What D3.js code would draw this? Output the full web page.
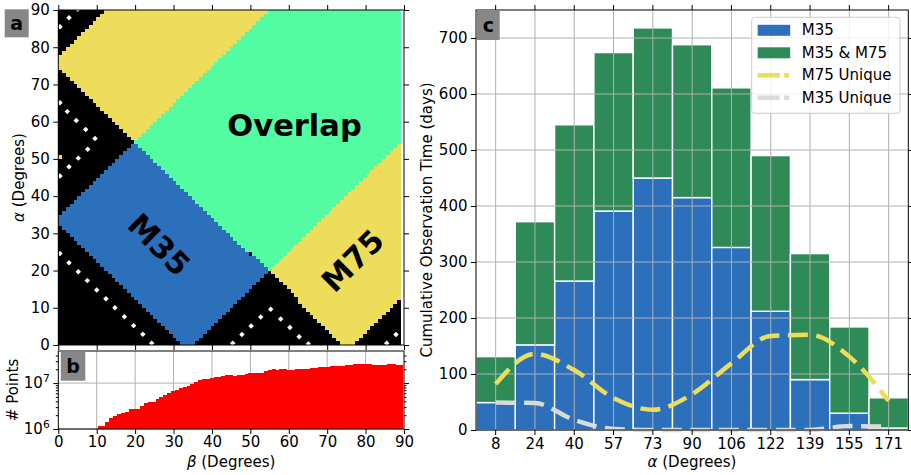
<!DOCTYPE html>
<html><head><meta charset="utf-8">
<script src="https://cdn.jsdelivr.net/npm/d3@7"></script>
<style>body{margin:0;background:#fff} text{font-family:"DejaVu Sans",sans-serif}</style>
</head><body><svg id="chart" width="911" height="475" xmlns="http://www.w3.org/2000/svg"></svg>
<script>
// ---------------- DATA ----------------
// Panel a: sky regions in (beta, alpha) degrees
const overlapPoly   = [[19.7,54.6],[55.1,90],[90,90],[90,55.2],[54.6,20.0]];
const m35Poly       = [[0,32.2],[0,34.7],[19.7,54.5],[54.6,20.0],[35.0,0],[32.2,0]];
const m75UpperPoly  = [[12.75,90],[55.1,90],[19.7,54.6],[0,74.3],[0,77.3]];
const m75LowerPoly  = [[54.6,20.0],[90,55.2],[90,13.0],[77.2,0],[74.2,0]];
const m75StrayCell  = [[0,50],[1,50],[1,51],[0,51]];
const imageBeta = [0, 89.2];
const imageAlpha = [0, 90];
const imageCells = [90, 90];
// dotted white markers (beta, alpha)
const dotsTopLeft   = [[0.44,85.5],[2.8,87.9],[5.1,90.2]];
const dotsChevron   = [[0.44,65.1],[2.34,62.7],[4.68,60.3],[7.13,57.9],[9.55,55.5],[7.65,52.6],[5.2,50.2],[2.78,47.9],[0.44,45.4]];
const dotsLowerLeft = [[0.44,24.6],[2.78,22.1],[5.2,19.7],[7.55,17.3],[10.0,14.8],[12.4,12.4],[14.75,10.0],[17.2,7.6],[19.6,5.2],[22.0,2.9],[24.3,0.45]];
const dotsBottomMid = [[45.4,0.45],[47.8,2.8],[50.2,5.1],[52.7,7.5],[55.3,9.6],[57.9,7.0],[60.3,4.7],[62.7,2.2],[65.1,0.27]];
const dotsBottomRight = [[85.5,0.45],[87.9,2.8]];
const regionLabels = [
  {text:"Overlap", beta:61.5, alpha:59.0, rot:0},
  {text:"M35", beta:26.2, alpha:26.9, rot:45},
  {text:"M75", beta:76.7, alpha:22.6, rot:-45}
];

// Panel b: number of points per beta bin (log)
const pointsBinStart = 10.25, pointsBinWidth = 1.006;
const pointsCounts = [
 1.18e6,1.18e6,1.42e6,1.74e6,1.96e6,2.13e6,2.24e6,2.36e6,2.74e6,2.74e6,
 2.74e6,3.19e6,3.65e6,3.90e6,3.90e6,4.47e6,4.93e6,5.56e6,5.94e6,6.58e6,
 7.14e6,7.78e6,8.04e6,8.75e6,9.66e6,10.5e6,11.6e6,12.0e6,12.0e6,13.1e6,
 13.8e6,13.8e6,14.5e6,15.0e6,15.0e6,14.5e6,15.2e6,15.2e6,16.0e6,16.8e6,
 16.8e6,16.8e6,16.8e6,18.6e6,19.6e6,20.6e6,19.6e6,20.6e6,20.6e6,19.6e6,
 19.6e6,20.6e6,20.6e6,20.6e6,20.6e6,21.7e6,21.7e6,22.8e6,22.8e6,22.8e6,
 24.0e6,24.0e6,24.0e6,24.0e6,25.2e6,25.2e6,26.5e6,26.5e6,26.5e6,26.5e6,
 26.5e6,25.2e6,25.2e6,25.2e6,25.2e6,26.5e6,26.5e6,25.2e6,25.2e6
];
const pointsMajorTicks = [1e6, 1e7];
const pointsMinorTicks = [2e6,3e6,4e6,5e6,6e6,7e6,8e6,9e6,2e7,3e7,4e7];
const betaTicks = [0,10,20,30,40,50,60,70,80,90];
const alphaTicksA = [0,10,20,30,40,50,60,70,80,90];

// Panel c: cumulative observation time per alpha bin
const alphaBins   = ["8","24","40","57","73","90","106","122","139","155","171"];
const m35Days     = [49,152,266,391,450,415,326,212,90,30,3.5];
const m35m75Days  = [82,220,279,283,268,273,285,278,225,154,54];
const m75Unique   = [82,136,107,57,36,64,119,168,170,131,52];
const m35Unique   = [49,48,18,2,0,0,0,0,0,7,6];
const daysTicks   = [0,100,200,300,400,500,600,700];

// ---------------- STYLE ----------------
const C = {
  blue:"#2c6fbb", green:"#2e8b57", yellow:"#eedc5b", sea:"#53fca1",
  grey:"#d8dcd6", black:"#000", red:"#ff0000", grid:"#b0b0b0", box:"#878787"
};
const FS = 15;
const FSC = 15;

const svg = d3.select("#chart");

function styleAxis(g, fs){
  g.select(".domain").remove();
  g.selectAll(".tick line").attr("stroke","#000").attr("stroke-width",1);
  g.selectAll(".tick text").attr("font-size",fs).attr("font-family","DejaVu Sans").attr("fill","#000");
}

// ---------------- PANEL A ----------------
const xA = d3.scaleLinear().domain([0,90]).range([58.3,404]);
const yA = d3.scaleLinear().domain([0,90]).range([345,10]);

const gA = svg.append("g");
const regions = [
  {poly:overlapPoly, color:C.sea},
  {poly:m35Poly, color:C.blue},
  {poly:m75UpperPoly, color:C.yellow},
  {poly:m75LowerPoly, color:C.yellow},
  {poly:m75StrayCell, color:C.yellow}
];
function classify(p){
  for(const r of regions){ if(d3.polygonContains(r.poly,p)) return r.color; }
  return C.black;
}
const cw = (imageBeta[1]-imageBeta[0])/imageCells[0];
const ch = (imageAlpha[1]-imageAlpha[0])/imageCells[1];
const runs = [];
for(let i=0;i<imageCells[0];i++){
  const b0 = imageBeta[0]+i*cw, b1 = b0+cw, bc=(b0+b1)/2;
  let start=0, cur=classify([bc, imageAlpha[0]+ch/2]);
  for(let j=1;j<=imageCells[1];j++){
    const c = j<imageCells[1] ? classify([bc, imageAlpha[0]+(j+0.5)*ch]) : null;
    if(c!==cur){
      runs.push({b0,b1,a0:imageAlpha[0]+start*ch,a1:imageAlpha[0]+j*ch,color:cur});
      start=j; cur=c;
    }
  }
}
gA.selectAll("rect.cell").data(runs).join("rect").attr("class","cell")
  .attr("x",d=>xA(d.b0)).attr("width",d=>xA(d.b1)-xA(d.b0)+0.3)
  .attr("y",d=>yA(d.a1)).attr("height",d=>yA(d.a0)-yA(d.a1))
  .attr("fill",d=>d.color).attr("shape-rendering","crispEdges");

const allDots = [].concat(dotsTopLeft,dotsChevron,dotsLowerLeft,dotsBottomMid,dotsBottomRight);
svg.append("clipPath").attr("id","clipImg").append("rect")
  .attr("x",xA(imageBeta[0])).attr("y",yA(imageAlpha[1]))
  .attr("width",xA(imageBeta[1])-xA(imageBeta[0])).attr("height",yA(imageAlpha[0])-yA(imageAlpha[1]));
gA.append("g").attr("clip-path","url(#clipImg)").selectAll("path").data(allDots).join("path")
  .attr("transform",d=>`translate(${xA(d[0])},${yA(d[1])})`)
  .attr("d",d3.symbol(d3.symbolDiamond2,19)())
  .attr("fill","#fff");

gA.selectAll("text.region").data(regionLabels).join("text").attr("class","region")
  .attr("transform",d=>`translate(${xA(d.beta)},${yA(d.alpha)}) rotate(${d.rot})`)
  .attr("text-anchor","middle").attr("dominant-baseline","central")
  .attr("font-size",30.5).attr("font-weight","bold").attr("fill","#000")
  .text(d=>d.text);

// spines a
svg.append("rect").attr("x",xA(0)).attr("y",yA(90)).attr("width",xA(90)-xA(0)).attr("height",yA(0)-yA(90))
  .attr("fill","none").attr("stroke","#000").attr("stroke-width",1);
styleAxis(svg.append("g").attr("transform",`translate(${xA(0)},0)`).call(d3.axisLeft(yA).tickValues(alphaTicksA).tickSize(5).tickPadding(3.5).tickFormat(d3.format("d"))),FS);
styleAxis(svg.append("g").attr("transform",`translate(${xA(90)},0)`).call(d3.axisRight(yA).tickValues(alphaTicksA).tickSize(5).tickFormat("")),FS);
styleAxis(svg.append("g").attr("transform",`translate(0,${yA(90)})`).call(d3.axisTop(xA).tickValues(betaTicks).tickSize(5).tickFormat("")),FS);
styleAxis(svg.append("g").attr("transform",`translate(0,${yA(0)})`).call(d3.axisBottom(xA).tickValues(betaTicks).tickSize(5).tickFormat("")),FS);

// y label a
svg.append("text").attr("transform",`translate(24,${(yA(0)+yA(90))/2}) rotate(-90)`)
  .attr("text-anchor","middle").attr("font-size",FS).attr("fill","#000")
  .call(t=>{t.append("tspan").attr("font-style","italic").text("α");t.append("tspan").text(" (Degrees)");});

// ---------------- PANEL B ----------------
const yB = d3.scaleLog().domain([1e6,5e7]).range([429,351]);
const gB = svg.append("g");
gB.selectAll("line.gv").data(betaTicks.slice(1,-1)).join("line").attr("class","gv")
  .attr("x1",d=>xA(d)).attr("x2",d=>xA(d)).attr("y1",yB(5e7)).attr("y2",yB(1e6))
  .attr("stroke",C.grid).attr("stroke-width",1);
gB.selectAll("line.gh").data(pointsMajorTicks).join("line").attr("class","gh")
  .attr("x1",xA(0)).attr("x2",xA(90)).attr("y1",d=>yB(d)).attr("y2",d=>yB(d))
  .attr("stroke",C.grid).attr("stroke-width",1);
gB.selectAll("rect.pb").data(pointsCounts).join("rect").attr("class","pb")
  .attr("x",(d,i)=>xA(pointsBinStart+i*pointsBinWidth))
  .attr("width",(d,i)=>xA(pointsBinStart+(i+1)*pointsBinWidth)-xA(pointsBinStart+i*pointsBinWidth)+0.3)
  .attr("y",d=>yB(d)).attr("height",d=>yB(1e6)-yB(d))
  .attr("fill",C.red).attr("shape-rendering","crispEdges");
svg.append("rect").attr("x",xA(0)).attr("y",yB(5e7)).attr("width",xA(90)-xA(0)).attr("height",yB(1e6)-yB(5e7))
  .attr("fill","none").attr("stroke","#000").attr("stroke-width",1);
const axLB = svg.append("g").attr("transform",`translate(${xA(0)},0)`)
  .call(d3.axisLeft(yB).tickValues(pointsMajorTicks).tickSize(5).tickPadding(3.5).tickFormat(d=>String(Math.round(Math.log10(d)))));
styleAxis(axLB,FS);
axLB.selectAll(".tick text").each(function(){
  const e=d3.select(this); const ex=e.text(); e.text("");
  e.append("tspan").text("10");
  e.append("tspan").attr("dy",-6).attr("font-size",FS*0.72).text(ex);
});
styleAxis(svg.append("g").attr("transform",`translate(${xA(0)},0)`).call(d3.axisLeft(yB).tickValues(pointsMinorTicks).tickSize(2.5).tickFormat("")),FS);
styleAxis(svg.append("g").attr("transform",`translate(${xA(90)},0)`).call(d3.axisRight(yB).tickValues(pointsMajorTicks).tickSize(5).tickFormat("")),FS);
styleAxis(svg.append("g").attr("transform",`translate(${xA(90)},0)`).call(d3.axisRight(yB).tickValues(pointsMinorTicks).tickSize(2.5).tickFormat("")),FS);
styleAxis(svg.append("g").attr("transform",`translate(0,${yB(1e6)})`).call(d3.axisBottom(xA).tickValues(betaTicks).tickSize(5).tickPadding(2.5).tickFormat(d3.format("d"))),FS);
svg.append("text").attr("transform",`translate(18,${(yB(1e6)+yB(5e7))/2}) rotate(-90)`)
  .attr("text-anchor","middle").attr("font-size",FS).attr("fill","#000").text("# Points");
svg.append("text").attr("x",(xA(0)+xA(90))/2).attr("y",467)
  .attr("text-anchor","middle").attr("font-size",FS).attr("fill","#000")
  .call(t=>{t.append("tspan").attr("font-style","italic").text("β");t.append("tspan").text(" (Degrees)");});

// ---------------- PANEL C ----------------
const xC = d3.scaleBand().domain(alphaBins).range([476,908.3]).padding(0);
const yC = d3.scaleLinear().domain([0,750]).range([430,10]);
const gC = svg.append("g");
const stackData = alphaBins.map((k,i)=>({k, m35:m35Days[i], both:m35m75Days[i]}));
const stacked = d3.stack().keys(["m35","both"])(stackData);
const barColors = {m35:C.blue, both:C.green};
stacked.forEach(layer=>{
  gC.append("g").selectAll("rect").data(layer).join("rect")
    .attr("x",d=>xC(d.data.k)).attr("width",xC.bandwidth())
    .attr("y",d=>yC(d[1])).attr("height",d=>yC(d[0])-yC(d[1]))
    .attr("fill",barColors[layer.key]).attr("stroke","#fff").attr("stroke-width",1.4);
});
gC.selectAll("line.gv").data(alphaBins).join("line").attr("class","gv")
  .attr("x1",d=>xC(d)+xC.bandwidth()/2).attr("x2",d=>xC(d)+xC.bandwidth()/2)
  .attr("y1",yC(750)).attr("y2",yC(0)).attr("stroke",C.grid).attr("stroke-width",1);
gC.selectAll("line.gh").data(daysTicks).join("line").attr("class","gh")
  .attr("x1",476).attr("x2",908.3).attr("y1",d=>yC(d)).attr("y2",d=>yC(d))
  .attr("stroke",C.grid).attr("stroke-width",1);
const lineGen = d3.line().x((d,i)=>xC(alphaBins[i])+xC.bandwidth()/2).y(d=>yC(d)).curve(d3.curveMonotoneX);
gC.append("path").attr("d",lineGen(m75Unique)).attr("fill","none").attr("stroke",C.yellow)
  .attr("stroke-width",4.5).attr("stroke-dasharray","20,8.5");
gC.append("path").attr("d",lineGen(m35Unique)).attr("fill","none").attr("stroke",C.grey)
  .attr("stroke-width",4.5).attr("stroke-dasharray","20,8.5");
svg.append("rect").attr("x",476).attr("y",yC(750)).attr("width",908.3-476).attr("height",yC(0)-yC(750))
  .attr("fill","none").attr("stroke","#000").attr("stroke-width",1);
styleAxis(svg.append("g").attr("transform",`translate(476,0)`).call(d3.axisLeft(yC).tickValues(daysTicks).tickSize(5).tickPadding(3.5)),FSC);
styleAxis(svg.append("g").attr("transform",`translate(908.3,0)`).call(d3.axisRight(yC).tickValues(daysTicks).tickSize(5).tickFormat("")),FSC);
styleAxis(svg.append("g").attr("transform",`translate(0,${yC(0)})`).call(d3.axisBottom(xC).tickSize(5).tickPadding(3.5)),FSC);
styleAxis(svg.append("g").attr("transform",`translate(0,${yC(750)})`).call(d3.axisTop(xC).tickSize(5).tickFormat("")),FSC);
svg.append("text").attr("transform",`translate(432,${(yC(0)+yC(750))/2}) rotate(-90)`)
  .attr("text-anchor","middle").attr("font-size",FSC).attr("fill","#000").text("Cumulative Observation Time (days)");
svg.append("text").attr("x",692).attr("y",467)
  .attr("text-anchor","middle").attr("font-size",FSC).attr("fill","#000")
  .call(t=>{t.append("tspan").attr("font-style","italic").text("α");t.append("tspan").text(" (Degrees)");});

// legend
const legendItems = [
  {label:"M35", type:"patch", color:C.blue},
  {label:"M35 & M75", type:"patch", color:C.green},
  {label:"M75 Unique", type:"line", color:C.yellow},
  {label:"M35 Unique", type:"line", color:C.grey}
];
const lg = svg.append("g").attr("transform","translate(751.7,17.3)");
lg.append("rect").attr("width",148.3).attr("height",96).attr("rx",3)
  .attr("fill","#fff").attr("fill-opacity",0.8).attr("stroke","#cccccc").attr("stroke-width",1);
legendItems.forEach((it,i)=>{
  const cy = 13 + i*22.5;
  if(it.type==="patch"){
    lg.append("rect").attr("x",6).attr("y",cy-5.5).attr("width",32.5).attr("height",11).attr("fill",it.color);
  } else {
    lg.append("line").attr("x1",6).attr("x2",38.5).attr("y1",cy).attr("y2",cy)
      .attr("stroke",it.color).attr("stroke-width",4.5).attr("stroke-dasharray","22,4.5,5,10");
  }
  lg.append("text").attr("x",50).attr("y",cy).attr("dominant-baseline","central")
    .attr("font-size",15).attr("fill","#000").text(it.label);
});

// panel labels
const panelLabels = [{t:"a",x:4.7,y:9.3,w:24,h:28},{t:"b",x:60.8,y:351.7,w:24.5,h:29},{t:"c",x:477,y:10,w:22.7,h:30}];
svg.selectAll("g.plab").data(panelLabels).join("g").attr("class","plab").each(function(d){
  const g=d3.select(this);
  g.append("rect").attr("x",d.x).attr("y",d.y).attr("width",d.w).attr("height",d.h).attr("fill",C.box);
  g.append("text").attr("x",d.x+d.w/2).attr("y",d.y+d.h/2).attr("text-anchor","middle")
    .attr("dominant-baseline","central").attr("font-size",19).attr("font-weight","bold").attr("fill","#000").text(d.t);
});
</script></body></html>
